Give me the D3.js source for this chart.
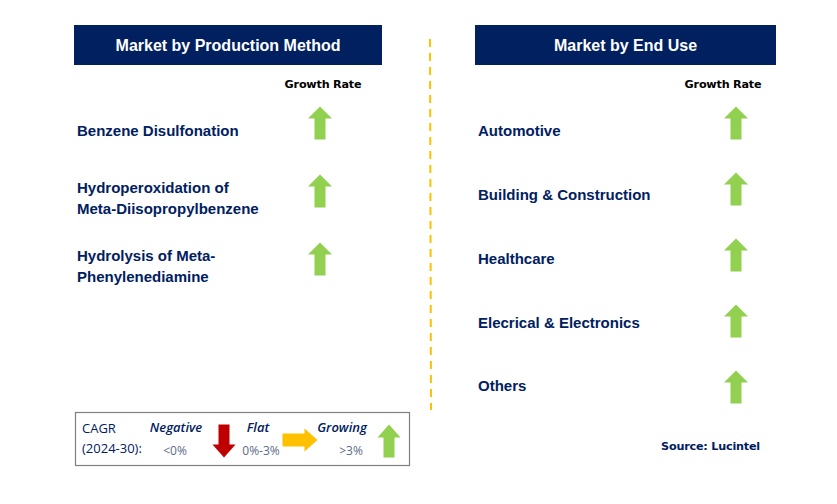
<!DOCTYPE html>
<html><head><meta charset="utf-8">
<script src="https://cdn.jsdelivr.net/npm/d3@7"></script>
<style>body{margin:0;background:#fff}svg{display:block}</style>
</head><body>
<div id="chart"></div>
<script>
const leftTitle = "Market by Production Method";
const rightTitle = "Market by End Use";
const productionMethods = [
  ["Benzene Disulfonation"],
  ["Hydroperoxidation of", "Meta-Diisopropylbenzene"],
  ["Hydrolysis of Meta-", "Phenylenediamine"]
];
const productionGrowth = ["up", "up", "up"];
const endUses = [
  ["Automotive"],
  ["Building & Construction"],
  ["Healthcare"],
  ["Elecrical & Electronics"],
  ["Others"]
];
const endUseGrowth = ["up", "up", "up", "up", "up"];
const legendItems = [
  {name: "Negative", range: "<0%", dir: "down"},
  {name: "Flat", range: "0%-3%", dir: "right"},
  {name: "Growing", range: ">3%", dir: "up"}
];
const cagrLabel = ["CAGR", "(2024-30):"];
const sourceText = "Source: Lucintel";

const W = 837, H = 504;
const navy = "#002060", green = "#92D050", red = "#C00000", orange = "#FFC000";
const svg = d3.select("#chart").append("svg").attr("width", W).attr("height", H);

function arrowPath(L, hw, sw, hl) {
  const p = [[0, -L/2], [hw/2, -L/2 + hl], [sw/2, -L/2 + hl], [sw/2, L/2], [-sw/2, L/2], [-sw/2, -L/2 + hl], [-hw/2, -L/2 + hl]];
  return "M" + p.map(d => d.join(",")).join("L") + "Z";
}
const rot = {up: 0, right: 90, down: 180, left: 270};
const col = {up: green, right: orange, down: red};

function panel(x0, x1, title, items, growth, textRange, arrowRange, arrowX, grX) {
  svg.append("rect").attr("x", x0).attr("y", 25).attr("width", x1 - x0).attr("height", 40).attr("fill", navy);
  svg.append("text").attr("x", (x0 + x1) / 2).attr("y", 45).attr("dy", "0.35em")
    .attr("text-anchor", "middle").attr("fill", "#fff")
    .style("font", "bold 16px 'Liberation Sans', Arial, sans-serif").text(title);
  svg.append("text").attr("x", grX).attr("y", 84).attr("dy", "0.35em")
    .attr("text-anchor", "middle").attr("fill", "#000")
    .style("font", "bold 11.2px 'DejaVu Sans', Tahoma, sans-serif").style("letter-spacing", "-0.2px").text("Growth Rate");
  const idx = d3.range(items.length);
  const ty = d3.scalePoint().domain(idx).range(textRange);
  const ay = d3.scalePoint().domain(idx).range(arrowRange);
  const g = svg.append("g");
  idx.forEach(i => {
    const lines = items[i];
    const t = g.append("text").attr("fill", navy)
      .style("font", "bold 15px 'Liberation Sans', Arial, sans-serif");
    lines.forEach((ln, j) => {
      t.append("tspan").attr("x", x0 + 3)
        .attr("y", ty(i) + (j - (lines.length - 1) / 2) * 21).attr("dy", "0.35em").text(ln);
    });
    g.append("path").attr("d", arrowPath(33, 24, 11, 12))
      .attr("transform", `translate(${arrowX},${ay(i)}) rotate(${rot[growth[i]]})`)
      .attr("fill", col[growth[i]]);
  });
}

panel(74, 382, leftTitle, productionMethods, productionGrowth, [131, 266], [123, 259], 320, 323);
panel(475, 776, rightTitle, endUses, endUseGrowth, [131, 386], [123, 387], 736, 723);

// divider
svg.append("line").attr("x1", 430).attr("x2", 431).attr("y1", 39).attr("y2", 410)
  .attr("stroke", orange).attr("stroke-width", 2).attr("stroke-dasharray", "8,6");

// legend
svg.append("rect").attr("x", 75.5).attr("y", 412.5).attr("width", 334).attr("height", 53)
  .attr("fill", "#fff").attr("stroke", "#7f7f7f").attr("stroke-width", 1.2);
const lf = "'Open Sans', 'Liberation Sans', sans-serif";
cagrLabel.forEach((s, i) => {
  svg.append("text").attr("x", 82).attr("y", 428 + i * 20).attr("dy", "0.35em").attr("fill", navy)
    .style("font", `13px ${lf}`).text(s);
});
const names = legendItems.map(d => d.name);
const nameX = d3.scaleOrdinal().domain(names).range([176, 258, 342]);
const rangeX = d3.scaleOrdinal().domain(names).range([175, 261, 351]);
const arrX = d3.scaleOrdinal().domain(names).range([224, 300, 389]);
legendItems.forEach(d => {
  svg.append("text").attr("x", nameX(d.name)).attr("y", 427).attr("dy", "0.35em").attr("text-anchor", "middle")
    .attr("fill", navy).style("font", `italic 600 13px ${lf}`).text(d.name);
  svg.append("text").attr("x", rangeX(d.name)).attr("y", 451).attr("dy", "0.35em").attr("text-anchor", "middle")
    .attr("fill", "#5a6a8a").style("font", `12px ${lf}`).text(d.range);
  const isRight = d.dir === "right";
  const cy = isRight ? 440 : 441;
  const path = isRight ? arrowPath(35, 23, 13, 13) : arrowPath(33, 23, 11, 13);
  svg.append("path").attr("d", path)
    .attr("transform", `translate(${arrX(d.name)},${cy}) rotate(${rot[d.dir]})`)
    .attr("fill", col[d.dir]);
});

svg.append("text").attr("x", 760).attr("y", 446).attr("dy", "0.35em").attr("text-anchor", "end")
  .attr("fill", navy).style("font", "bold 11.2px 'DejaVu Sans', Tahoma, sans-serif").style("letter-spacing", "-0.2px").text(sourceText);
</script>
</body></html>
